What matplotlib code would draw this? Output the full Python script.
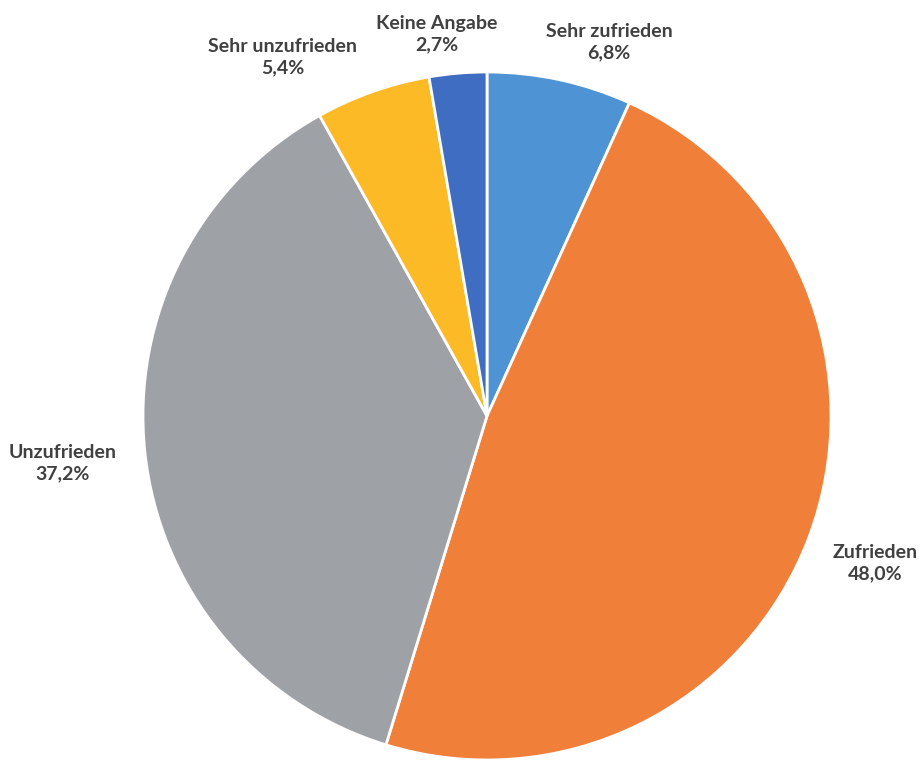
import matplotlib.pyplot as plt

# Zufriedenheit - Anteile in Prozent
kategorien = ["Sehr zufrieden", "Zufrieden", "Unzufrieden", "Sehr unzufrieden", "Keine Angabe"]
anteile = [6.8, 48.0, 37.2, 5.4, 2.7]
farben = ["#4E94D4", "#F07F3A", "#9EA1A6", "#FBBA26", "#3F6DC1"]

# Beschriftungspositionen (Pixel, Ursprung oben links)
label_pos = [(609, 42), (875, 563), (63, 463), (283, 57), (437, 34)]

fig = plt.figure(figsize=(9.2, 7.6), dpi=100)
ax = fig.add_axes([0, 0, 1, 1])

ax.pie(anteile, colors=farben, startangle=90, counterclock=False,
       center=(487, 760 - 416), radius=344,
       wedgeprops=dict(edgecolor="white", linewidth=2))

# pie() setzt eigene Grenzen, daher danach festlegen
ax.set_xlim(0, 920)
ax.set_ylim(0, 760)
ax.set_aspect("equal")
ax.axis("off")

for name, wert, (x, y) in zip(kategorien, anteile, label_pos):
    text = f"{name}\n{wert:.1f}%".replace(".", ",")
    ax.text(x, 760 - y, text, ha="center", va="center", fontsize=14,
            fontweight="bold", family="Lato", color="#404040", linespacing=1.3)

fig.savefig("out.png", dpi=100)
